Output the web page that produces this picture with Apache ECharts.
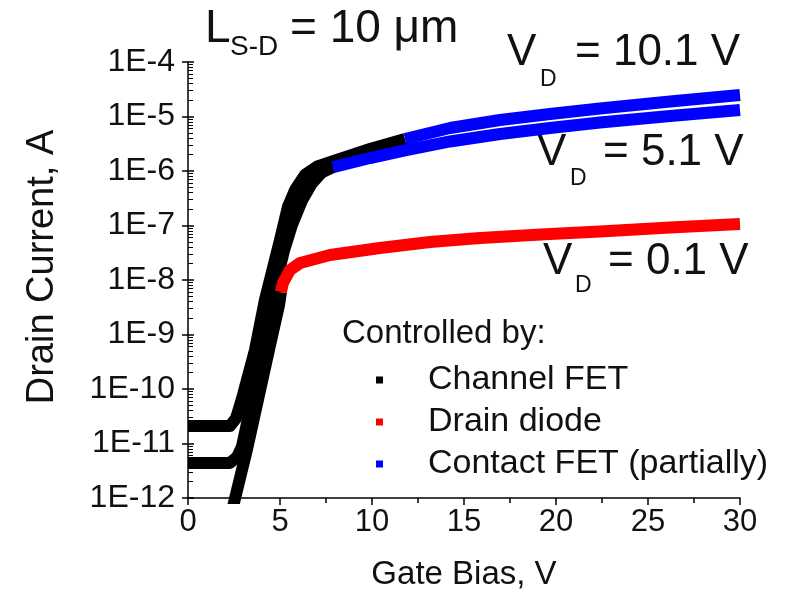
<!DOCTYPE html>
<html>
<head>
<meta charset="utf-8">
<script src="https://cdn.jsdelivr.net/npm/echarts@6/dist/echarts.min.js"></script>
<style>
  html, body { margin: 0; padding: 0; background: #fff; }
  #chart { width: 789px; height: 591px; }
</style>
</head>
<body>
<div id="chart"></div>
<script>
// Transfer curves I_D(V_G) of a 10 um device at three drain biases.
// Each curve is split by the mechanism that limits the current.

// V_D = 0.1 V
const vgCh01 = [2.45, 3.21, 3.80, 4.40, 4.95, 5.05];
const idCh01 = [7e-13, 7.9e-12, 6.3e-11, 5.2e-10, 3.5e-9, 6.0e-9];
const vgDiode01 = [5.05, 5.16, 5.54, 6.09, 7.72, 10.43, 13.15, 15.87, 19.67, 22.39, 26.2, 30];
const idDiode01 = [6.03e-9, 8.81e-9, 1.52e-8, 2.05e-8, 2.87e-8, 3.86e-8, 4.98e-8, 5.90e-8, 6.98e-8, 7.76e-8, 9.19e-8, 1.07e-7];

// V_D = 5.1 V
const vgCh51 = [0, 2.28, 2.66, 2.93, 3.48, 4.02, 4.57, 5.22, 5.65, 6.20, 6.74, 7.28, 7.88];
const idCh51 = [4.4e-12, 4.4e-12, 5.6e-12, 8.7e-12, 6.3e-11, 5.2e-10, 4.3e-9, 3.5e-8, 1.02e-7, 2.9e-7, 6.0e-7, 9.5e-7, 1.18e-6];
const vgCt51 = [7.88, 9.89, 11.79, 14.24, 16.96, 19.67, 22.39, 26.2, 30];
const idCt51 = [1.18e-6, 1.73e-6, 2.38e-6, 3.48e-6, 4.77e-6, 6.15e-6, 7.76e-6, 1.02e-5, 1.32e-5];

// V_D = 10.1 V
const vgCh101 = [0, 2.28, 2.61, 2.83, 2.99, 3.64, 4.18, 5.0, 5.43, 5.82, 6.36, 7.07, 7.88, 9.89, 11.79];
const idCh101 = [2.1e-11, 2.1e-11, 2.9e-11, 5.1e-11, 7.8e-11, 5.2e-10, 4.3e-9, 5.4e-8, 2.2e-7, 4.5e-7, 8.5e-7, 1.23e-6, 1.52e-6, 2.53e-6, 3.87e-6];
const vgCt101 = [11.79, 14.24, 16.96, 19.67, 22.39, 26.2, 30];
const idCt101 = [3.87e-6, 6.15e-6, 8.62e-6, 1.11e-5, 1.40e-5, 1.88e-5, 2.48e-5];

// Axis ticks
const xTicks = [0, 5, 10, 15, 20, 25, 30];
const yDecades = [1e-12, 1e-11, 1e-10, 1e-9, 1e-8, 1e-7, 1e-6, 1e-5, 1e-4];
const yTickLabels = ['1E-12', '1E-11', '1E-10', '1E-9', '1E-8', '1E-7', '1E-6', '1E-5', '1E-4'];

const legendNames = ['Channel FET', 'Drain diode', 'Contact FET (partially)'];
const COLORS = { channel: '#000000', diode: '#ff0000', contact: '#0000ff' };

const FONT = '"Liberation Sans", Arial, Helvetica, sans-serif';
const TEXT = '#111111';

function pairs(xs, ys) { return xs.map((x, i) => [x, ys[i]]); }

function curve(name, color, xs, ys) {
  return {
    name: name,
    type: 'line',
    data: pairs(xs, ys),
    showSymbol: false,
    smooth: false,
    clip: true,
    lineStyle: { color: color, width: 12, cap: 'butt', join: 'round' },
    itemStyle: { color: color },
    emphasis: { disabled: true },
    silent: true
  };
}

const chart = echarts.init(document.getElementById('chart'), null, { renderer: 'canvas' });

const tickLine = { color: '#000', width: 1.5 };
const yRange = { type: 'log', logBase: 10, min: yDecades[0], max: yDecades[yDecades.length - 1], splitNumber: 8 };

chart.setOption({
  animation: false,
  backgroundColor: '#ffffff',
  textStyle: { fontFamily: FONT },
  grid: { left: 188, right: 49, top: 62, bottom: 93, containLabel: false, outerBoundsMode: 'none' },
  xAxis: {
    type: 'value',
    min: xTicks[0],
    max: xTicks[xTicks.length - 1],
    interval: xTicks[1] - xTicks[0],
    name: 'Gate Bias, V',
    nameLocation: 'middle',
    nameGap: 60,
    nameTextStyle: { fontSize: 33, color: TEXT, fontFamily: FONT },
    axisLine: { show: true, lineStyle: tickLine },
    axisTick: { show: true, inside: false, length: 7, lineStyle: tickLine },
    minorTick: { show: true, splitNumber: 2, length: 5, lineStyle: tickLine },
    axisLabel: { fontSize: 31, color: TEXT, margin: 9, fontFamily: FONT },
    splitLine: { show: false },
    minorSplitLine: { show: false }
  },
  yAxis: [
    Object.assign({}, yRange, {
      name: 'Drain Current, A',
      nameLocation: 'middle',
      nameGap: 126,
      nameRotate: 90,
      nameTextStyle: { fontSize: 38, color: TEXT, fontFamily: FONT, padding: [0, 0, 0, 26] },
      axisLine: { show: true, lineStyle: tickLine },
      axisTick: { show: true, inside: false, length: 6, lineStyle: tickLine },
      axisLabel: {
        fontSize: 32, color: TEXT, margin: 13, fontFamily: FONT,
        formatter: function (v) {
          const k = Math.round(Math.log10(v)) + 12;
          return yTickLabels[k] !== undefined ? yTickLabels[k] : '';
        }
      },
      splitLine: { show: false }
    }),
    // companion axis carrying the 2..9 sub-decade ticks on the inner side
    Object.assign({}, yRange, {
      position: 'left',
      offset: 0,
      axisLine: { show: false },
      axisLabel: { show: false },
      axisTick: { show: true, inside: true, length: 6, lineStyle: { color: '#000', width: 1.5 } },
      minorTick: { show: true, splitNumber: 9, length: 5, lineStyle: { color: '#000', width: 1 } },
      splitLine: { show: false },
      minorSplitLine: { show: false }
    })
  ],
  legend: {
    orient: 'vertical',
    left: 376,
    top: 363,
    padding: 0,
    itemGap: 8,
    itemWidth: 7,
    itemHeight: 7,
    icon: 'rect',
    selectedMode: false,
    data: legendNames,
    textStyle: { fontSize: 34, color: TEXT, fontFamily: FONT, lineHeight: 28, padding: [0, 0, 6, 40] }
  },
  series: [
    curve(legendNames[0], COLORS.channel, vgCh01, idCh01),
    curve(legendNames[0], COLORS.channel, vgCh51, idCh51),
    curve(legendNames[0], COLORS.channel, vgCh101, idCh101),
    curve(legendNames[1], COLORS.diode, vgDiode01, idDiode01),
    curve(legendNames[2], COLORS.contact, vgCt51, idCt51),
    curve(legendNames[2], COLORS.contact, vgCt101, idCt101)
  ],
  graphic: [
    { type: 'text', x: 342, y: 334, style: { text: 'Controlled by:', font: '33px ' + FONT, fill: TEXT, verticalAlign: 'middle' } },

    { type: 'text', x: 205, y: 29, style: { text: 'L', font: '46px ' + FONT, fill: TEXT, verticalAlign: 'middle' } },
    { type: 'text', x: 230, y: 47, style: { text: 'S-D', font: '28px ' + FONT, fill: TEXT, verticalAlign: 'middle' } },
    { type: 'text', x: 290, y: 29, style: { text: '= 10 \u03bcm', font: '46px ' + FONT, fill: TEXT, verticalAlign: 'middle' } },

    { type: 'text', x: 507, y: 53, style: { text: 'V', font: '44px ' + FONT, fill: TEXT, verticalAlign: 'middle' } },
    { type: 'text', x: 540, y: 80, style: { text: 'D', font: '23px ' + FONT, fill: TEXT, verticalAlign: 'middle' } },
    { type: 'text', x: 575, y: 53, style: { text: '= 10.1 V', font: '44px ' + FONT, fill: TEXT, verticalAlign: 'middle' } },

    { type: 'text', x: 537, y: 153, style: { text: 'V', font: '44px ' + FONT, fill: TEXT, verticalAlign: 'middle' } },
    { type: 'text', x: 570, y: 179, style: { text: 'D', font: '23px ' + FONT, fill: TEXT, verticalAlign: 'middle' } },
    { type: 'text', x: 603, y: 153, style: { text: '= 5.1 V', font: '44px ' + FONT, fill: TEXT, verticalAlign: 'middle' } },

    { type: 'text', x: 543, y: 262, style: { text: 'V', font: '44px ' + FONT, fill: TEXT, verticalAlign: 'middle' } },
    { type: 'text', x: 575, y: 286, style: { text: 'D', font: '23px ' + FONT, fill: TEXT, verticalAlign: 'middle' } },
    { type: 'text', x: 608, y: 262, style: { text: '= 0.1 V', font: '44px ' + FONT, fill: TEXT, verticalAlign: 'middle' } }
  ]
});
</script>
</body>
</html>
